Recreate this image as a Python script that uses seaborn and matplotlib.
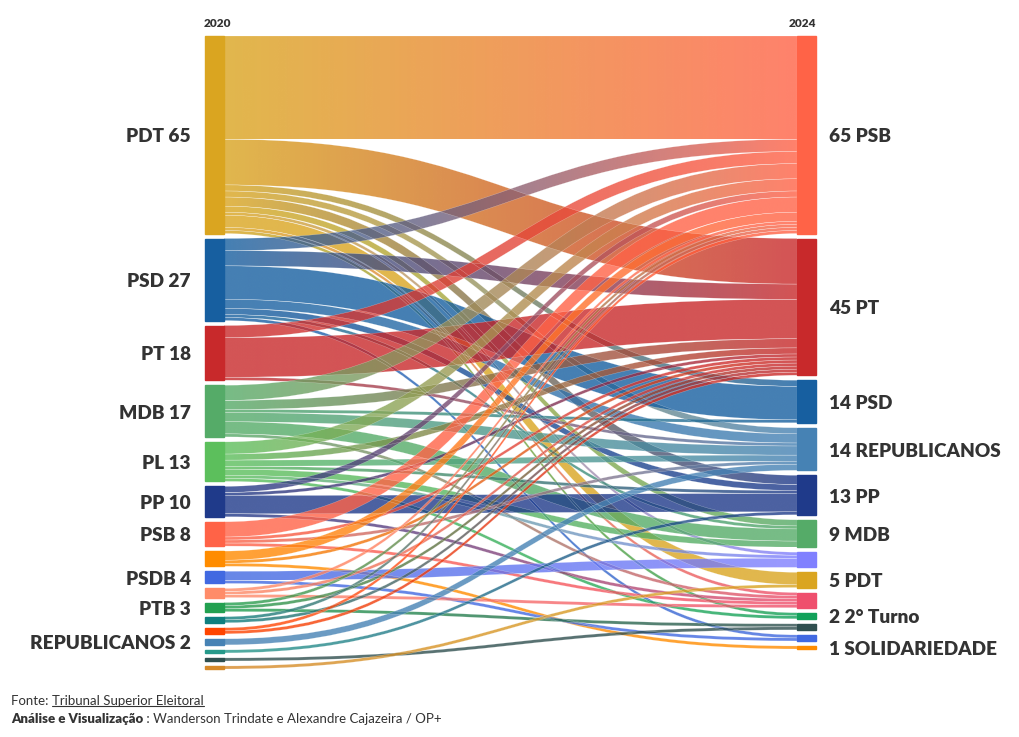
import numpy as np
import matplotlib
matplotlib.use("Agg")
import matplotlib.pyplot as plt
from matplotlib.path import Path
from matplotlib.patches import PathPatch, Rectangle
from matplotlib.colors import to_rgb
import seaborn as sns

# 2020 mayors by party (labels left blank where the original hides them)
left_names = ["PDT", "PSD", "PT", "MDB", "PL", "PP", "PSB", "", "PSDB", "", "PTB",
              "", "", "REPUBLICANOS", "", "", ""]
left_values = [65, 27, 18, 17, 13, 10, 8, 5, 4, 3, 3, 2, 2, 2, 1, 1, 1]
left_colors = ["#daa520", "#175fa0", "#c8292b", "#55ab68", "#5cbf5c", "#1f3a8a",
               "#ff6347", "#ff8c00", "#4169e1", "#ff8c69", "#22a050", "#0f7f7f",
               "#ff4500", "#4682b4", "#26998a", "#2f4f4f", "#d68a2a"]

# 2024 results
right_names = ["PSB", "PT", "PSD", "REPUBLICANOS", "PP", "MDB", "", "PDT", "",
               "2° Turno", "", "", "SOLIDARIEDADE"]
right_values = [65, 45, 14, 14, 13, 9, 5, 5, 5, 2, 2, 2, 1]
right_colors = ["#ff6347", "#c8292b", "#175fa0", "#4682b4", "#1f3a8a", "#55ab68",
                "#8080ff", "#daa520", "#ef4f6d", "#12a15a", "#2f4f4f", "#4169e1",
                "#ff8c00"]

# flows 2020 -> 2024 (source index, target index, municipalities)
flow_src = [0, 0, 0, 0, 0, 0, 0, 0, 0, 0,
            1, 1, 1, 1, 1, 1, 1,
            2, 2, 2,
            3, 3, 3, 3, 3, 3,
            4, 4, 4, 4, 4, 4, 4,
            5, 5, 5, 5,
            6, 6, 6, 6,
            7, 7, 7,
            8, 8,
            9, 9, 9,
            10, 10, 10,
            11, 11,
            12, 12,
            13, 14, 15, 16]
flow_tgt = [0, 1, 2, 3, 4, 5, 6, 7, 8, 9,
            0, 1, 2, 3, 4, 5, 11,
            0, 1, 3,
            0, 1, 2, 3, 5, 8,
            0, 1, 3, 4, 5, 6, 9,
            0, 1, 4, 8,
            0, 1, 3, 8,
            0, 1, 12,
            6, 11,
            0, 1, 8,
            0, 1, 10,
            0, 1,
            0, 1,
            3, 4, 10, 7]
flow_val = [34, 15, 2, 2, 3, 2, 1, 4, 1, 1,
            4, 5, 11, 3, 2, 1, 1,
            4, 13, 1,
            5, 3, 1, 3, 4, 1,
            4, 2, 2, 1, 2, 1, 1,
            2, 1, 6, 1,
            5, 1, 1, 1,
            3, 1, 1,
            3, 1,
            1, 1, 1,
            1, 1, 1,
            1, 1,
            1, 1,
            2, 1, 1, 1]

sns.set_style("white")
plt.rcParams["font.family"] = ["Lato", "DejaVu Sans"]

W, H = 1020, 737
fig = plt.figure(figsize=(W / 100, H / 100), dpi=100)
ax = fig.add_axes([0, 0, 1, 1])
ax.set_axis_off()

top, col_h, gap, node_w = 36, 633, 5, 19
xl, xr = 205, 797
k = (col_h - gap * (len(left_values) - 1)) / sum(left_values)


def stack(values):
    ys, y = [], top
    for v in values:
        ys.append(y)
        y += v * k + gap
    return ys


left_y = stack(left_values)
right_y = stack(right_values)

# outflows ordered by target, inflows ordered by source
order = sorted(range(len(flow_val)), key=lambda i: (flow_src[i], flow_tgt[i]))
out_off = [0.0] * len(left_values)
y0s = {}
for i in order:
    y0s[i] = left_y[flow_src[i]] + out_off[flow_src[i]]
    out_off[flow_src[i]] += flow_val[i] * k
in_off = [0.0] * len(right_values)
y1s = {}
for i in sorted(range(len(flow_val)), key=lambda i: (flow_tgt[i], flow_src[i])):
    y1s[i] = right_y[flow_tgt[i]] + in_off[flow_tgt[i]]
    in_off[flow_tgt[i]] += flow_val[i] * k

x0, x1 = xl + node_w, xr
xm = (x0 + x1) / 2
alpha = 0.8
for i in order:
    s, t, h = flow_src[i], flow_tgt[i], flow_val[i] * k
    ya, yb = y0s[i], y1s[i]
    verts = [(x0, ya), (xm, ya), (xm, yb), (x1, yb),
             (x1, yb + h), (xm, yb + h), (xm, ya + h), (x0, ya + h), (x0, ya)]
    codes = [Path.MOVETO, Path.CURVE4, Path.CURVE4, Path.CURVE4,
             Path.LINETO, Path.CURVE4, Path.CURVE4, Path.CURVE4, Path.CLOSEPOLY]
    patch = PathPatch(Path(verts, codes), facecolor="none", edgecolor="none")
    ax.add_patch(patch)
    c0, c1 = np.array(to_rgb(left_colors[s])), np.array(to_rgb(right_colors[t]))
    f = np.linspace(0, 1, 128)[:, None]
    grad = np.ones((1, 128, 4))
    grad[0, :, :3] = c0 * (1 - f) + c1 * f
    grad[0, :, 3] = alpha
    ylo, yhi = min(ya, yb), max(ya, yb) + h
    im = ax.imshow(grad, extent=[x0, x1, yhi, ylo], aspect="auto",
                   interpolation="bilinear", zorder=1)
    im.set_clip_path(patch)
    edge = PathPatch(Path(verts, codes), facecolor="none", edgecolor="white",
                     lw=0.25, alpha=0.5, zorder=1.5)
    ax.add_patch(edge)

for y, v, c, n in zip(left_y, left_values, left_colors, left_names):
    ax.add_patch(Rectangle((xl, y), node_w, v * k, color=c, zorder=3))
    if n:
        ax.text(xl - 14, y + v * k / 2 + 2, f"{n} {v}", ha="right", va="center",
                fontsize=13.7, fontweight="heavy", color="#333333")
for y, v, c, n in zip(right_y, right_values, right_colors, right_names):
    ax.add_patch(Rectangle((xr, y), node_w, v * k, color=c, zorder=3))
    if n:
        ax.text(xr + node_w + 13, y + v * k / 2 + 2, f"{v} {n}", ha="left", va="center",
                fontsize=13.7, fontweight="heavy", color="#333333")

ax.text(xl - 1, 23, "2020", ha="left", va="center", fontsize=8.5, fontweight="heavy", color="#333333")
ax.text(xr + node_w, 23, "2024", ha="right", va="center", fontsize=8.5, fontweight="heavy", color="#333333")

ax.set_xlim(0, W)
ax.set_ylim(H, 0)

# footer
fig.canvas.draw()
r = fig.canvas.get_renderer()
inv = ax.transData.inverted()


def right_edge(t):
    bb = t.get_window_extent(renderer=r)
    return inv.transform((bb.x1, bb.y0))


t1 = ax.text(11, 701, "Fonte: ", ha="left", va="center", fontsize=9.5, color="#333333")
xe = right_edge(t1)[0]
t2 = ax.text(xe, 701, "Tribunal Superior Eleitoral", ha="left", va="center",
             fontsize=9.5, color="#333333")
bb = t2.get_window_extent(renderer=r)
(ux0, uy), (ux1, _) = inv.transform((bb.x0, bb.y0)), inv.transform((bb.x1, bb.y0))
ax.plot([ux0, ux1], [uy - 1, uy - 1], color="#333333", lw=0.8)
t3 = ax.text(11, 719, "Análise e Visualização", ha="left", va="center", fontsize=9.5,
             fontweight="heavy", color="#333333")
xe = right_edge(t3)[0]
ax.text(xe, 719, " : Wanderson Trindate e Alexandre Cajazeira / OP+", ha="left",
        va="center", fontsize=9.5, color="#333333")

ax.set_xlim(0, W)
ax.set_ylim(H, 0)
fig.savefig("out.png", dpi=100)
